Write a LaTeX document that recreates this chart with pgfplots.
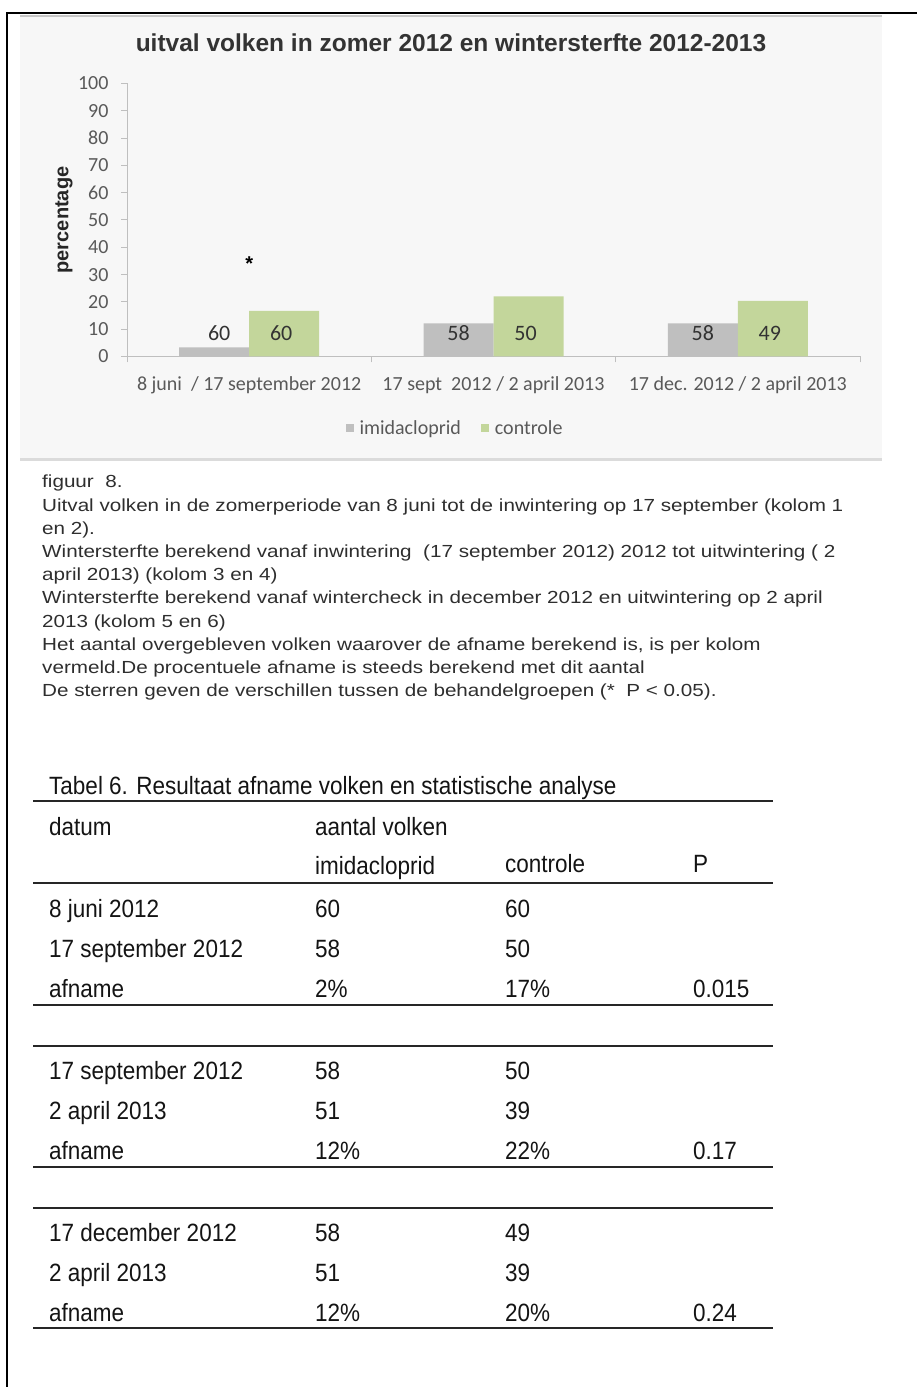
\documentclass[border=0pt]{standalone}
\usepackage{fontspec}
\setmainfont{Liberation Sans}
\newfontfamily\calibri{Carlito}
\newfontfamily\capfont[FakeStretch=1.18]{Liberation Sans}
\newfontfamily\tabfont[FakeStretch=0.9]{Liberation Sans}
\usepackage{pgfplots}
\pgfplotsset{compat=1.18}
\definecolor{barGray}{HTML}{BFBFBF}
\definecolor{barGreen}{HTML}{C3D69B}
\definecolor{txtGray}{HTML}{595959}
\definecolor{axGray}{HTML}{BFBFBF}
\begin{document}
\begin{tikzpicture}[x=1pt,y=1pt]
\path[use as bounding box] (0,0) rectangle (917,1387);
\begin{scope}[shift={(0,1387)},yscale=-1]
  % chart panel
  \fill[black!3] (20,15) rectangle (882,461);
  \draw[black!14, line width=3pt] (20,460) -- (882,460);
  \draw[black!22, line width=2pt] (20,16) -- (882,16);
  % outer frame
  \draw[black, line width=2pt] (7,1387) -- (7,13) -- (917,13);
  % chart title and y label
  \node[font=\bfseries\fontsize{24.5}{29}\selectfont, text=black!80] at (451,43) {uitval volken in zomer 2012 en wintersterfte 2012-2013};
  \node[rotate=90, font=\bfseries\fontsize{20}{24}\selectfont, text=black!85] at (64,220) {percentage};
  % caption
  \begin{scope}[every node/.style={anchor=base west, inner sep=0pt, font=\capfont\fontsize{17.5}{20}\selectfont, text=black!82}]
    \node at (42,488.0) {figuur\ \ 8.};
    \node at (42,511.2) {Uitval volken in de zomerperiode van 8 juni tot de inwintering op 17 september (kolom 1};
    \node at (42,534.4) {en 2).};
    \node at (42,557.6) {Wintersterfte berekend vanaf inwintering\ \ (17 september 2012) 2012 tot uitwintering ( 2};
    \node at (42,580.8) {april 2013) (kolom 3 en 4)};
    \node at (42,604.0) {Wintersterfte berekend vanaf wintercheck in december 2012 en uitwintering op 2 april};
    \node at (42,627.2) {2013 (kolom 5 en 6)};
    \node at (42,650.4) {Het aantal overgebleven volken waarover de afname berekend is, is per kolom};
    \node at (42,673.6) {vermeld.De procentuele afname is steeds berekend met dit aantal};
    \node at (42,696.8) {De sterren geven de verschillen tussen de behandelgroepen (*\ \ P < 0.05).};
  \end{scope}
  % table
  \begin{scope}[every node/.style={anchor=base west, inner sep=0pt, font=\tabfont\fontsize{25}{30}\selectfont, text=black!92}]
    \node at (49,795) {Tabel 6. Resultaat afname volken en statistische analyse};
    \node at (49,836) {datum};
    \node at (315,836) {aantal volken};
    \node at (315,875) {imidacloprid};
    \node at (505,873) {controle};
    \node at (693,873) {P};
    % group 1
    \node at (49,918) {8 juni 2012};        \node at (315,918) {60}; \node at (505,918) {60};
    \node at (49,958) {17 september 2012};  \node at (315,958) {58}; \node at (505,958) {50};
    \node at (49,998) {afname};             \node at (315,998) {2\%}; \node at (505,998) {17\%}; \node at (693,998) {0.015};
    % group 2
    \node at (49,1080) {17 september 2012}; \node at (315,1080) {58}; \node at (505,1080) {50};
    \node at (49,1120) {2 april 2013};      \node at (315,1120) {51}; \node at (505,1120) {39};
    \node at (49,1160) {afname};            \node at (315,1160) {12\%}; \node at (505,1160) {22\%}; \node at (693,1160) {0.17};
    % group 3
    \node at (49,1242) {17 december 2012};  \node at (315,1242) {58}; \node at (505,1242) {49};
    \node at (49,1282) {2 april 2013};      \node at (315,1282) {51}; \node at (505,1282) {39};
    \node at (49,1322) {afname};            \node at (315,1322) {12\%}; \node at (505,1322) {20\%}; \node at (693,1322) {0.24};
  \end{scope}
  \foreach \yy in {801,883,1005,1046,1167,1208,1328} {
    \draw[black!85, line width=2pt] (33,\yy) -- (773,\yy);
  }
\end{scope}

\begin{axis}[
  at={(127pt,1030.5pt)}, anchor=south west,
  scale only axis, width=733pt, height=273pt,
  ybar=0pt, bar width=70pt,
  xmin=-0.5, xmax=2.5, ymin=0, ymax=100,
  axis x line*=bottom, axis y line*=left,
  axis line style={draw=axGray, line width=1pt, -},
  tick align=outside,
  major tick length=6pt,
  tick style={draw=axGray, line width=1pt},
  ytick={0,10,...,100},
  xtick={-0.5,0.5,1.5,2.5},
  x tick label as interval,
  xticklabels={8 juni\ \ / 17 september 2012, 17 sept\ \ 2012 / 2 april 2013, 17 dec. 2012 / 2 april 2013},
  ticklabel style={font=\calibri\fontsize{20}{24}\selectfont, text=txtGray},
  yticklabel style={/pgf/number format/assume math mode=true, xshift=-9pt},
  xticklabel style={yshift=-11pt},
  legend image code/.code={\fill[#1] (0pt,-4pt) rectangle (8pt,4pt);},
  legend style={at={(rel axis cs:0.4475,-0.262)}, anchor=center, draw=none, fill=none,
    legend columns=2, font=\calibri\fontsize{20}{24}\selectfont, text=txtGray,
    /tikz/every odd column/.append style={column sep=4pt},
    /tikz/every even column/.append style={column sep=18pt}},
]
\addplot[fill=barGray, draw=none] coordinates {(0,3.3) (1,12.1) (2,12.1)};
\addplot[fill=barGreen, draw=none] coordinates {(0,16.7) (1,22) (2,20.4)};
\legend{imidacloprid, controle}
\begin{scope}[every node/.style={font=\calibri\fontsize{22}{24}\selectfont, text=black!80}]
  \node[xshift=-30pt] at (axis cs:0,8.6) {60};
  \node[xshift=32pt]  at (axis cs:0,8.6) {60};
  \node[xshift=-35pt] at (axis cs:1,8.6) {58};
  \node[xshift=32pt]  at (axis cs:1,8.6) {50};
  \node[xshift=-35pt] at (axis cs:2,8.6) {58};
  \node[xshift=32pt]  at (axis cs:2,8.6) {49};
\end{scope}
\node[font=\bfseries\fontsize{20}{24}\selectfont, yshift=-4.5pt] at (axis cs:0,35.5) {*};
\end{axis}
\end{tikzpicture}
\end{document}
